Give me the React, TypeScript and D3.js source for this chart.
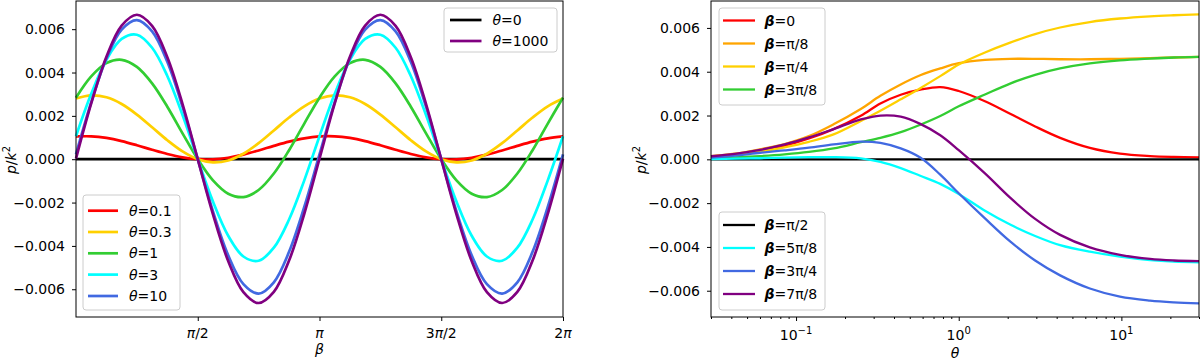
import React, { useRef, useEffect } from 'react';
import * as d3 from 'd3';

// ---- left panel: p/k^2 against beta, one curve per theta ----
const betaOverPi = [0, 0.0625, 0.125, 0.1875, 0.25, 0.3125, 0.375, 0.4375, 0.5, 0.5625, 0.625, 0.6875, 0.75, 0.8125, 0.875, 0.9375, 1,
    1.0625, 1.125, 1.1875, 1.25, 1.3125, 1.375, 1.4375, 1.5, 1.5625, 1.625, 1.6875, 1.75, 1.8125, 1.875, 1.9375, 2];

const pTheta0 = [0, 0, 0, 0, 0, 0, 0, 0, 0, 0, 0, 0, 0, 0, 0, 0, 0, 0, 0, 0, 0, 0, 0, 0, 0, 0, 0, 0, 0, 0, 0, 0, 0];
const pTheta01 = [0.00105, 0.001056, 0.000981, 0.000837, 0.000645, 0.000435, 0.000239, 0.000086, 0, -0.000006, 0.000069, 0.000213, 0.000405, 0.000615, 0.000811, 0.000964, 0.00105,
    0.001056, 0.000981, 0.000837, 0.000645, 0.000435, 0.000239, 0.000086, 0, -0.000006, 0.000069, 0.000213, 0.000405, 0.000615, 0.000811, 0.000964, 0.00105];
const pTheta03 = [0.0028, 0.002946, 0.002857, 0.002546, 0.00206, 0.001474, 0.000877, 0.00036, 0, -0.000146, -0.000057, 0.000254, 0.00074, 0.001326, 0.001923, 0.00244, 0.0028,
    0.002946, 0.002857, 0.002546, 0.00206, 0.001474, 0.000877, 0.00036, 0, -0.000146, -0.000057, 0.000254, 0.00074, 0.001326, 0.001923, 0.00244, 0.0028];
const pTheta1 = [0.00284, 0.003819, 0.004432, 0.004587, 0.00426, 0.003501, 0.002424, 0.001195, 0, -0.000979, -0.001592, -0.001747, -0.00142, -0.000661, 0.000416, 0.001645, 0.00284,
    0.003819, 0.004432, 0.004587, 0.00426, 0.003501, 0.002424, 0.001195, 0, -0.000979, -0.001592, -0.001747, -0.00142, -0.000661, 0.000416, 0.001645, 0.00284];
const pTheta3 = [0.00106, 0.003015, 0.004591, 0.005549, 0.005743, 0.005143, 0.003841, 0.002035, 0, -0.001955, -0.003531, -0.004489, -0.004683, -0.004083, -0.002781, -0.000975, 0.00106,
    0.003015, 0.004591, 0.005549, 0.005743, 0.005143, 0.003841, 0.002035, 0, -0.001955, -0.003531, -0.004489, -0.004683, -0.004083, -0.002781, -0.000975, 0.00106];
const pTheta10 = [0.00022, 0.002627, 0.00465, 0.005982, 0.00642, 0.005898, 0.004494, 0.002423, 0, -0.002407, -0.00443, -0.005762, -0.0062, -0.005678, -0.004274, -0.002203, 0.00022,
    0.002627, 0.00465, 0.005982, 0.00642, 0.005898, 0.004494, 0.002423, 0, -0.002407, -0.00443, -0.005762, -0.0062, -0.005678, -0.004274, -0.002203, 0.00022];
const pTheta1000 = [0.00003, 0.002574, 0.004728, 0.006165, 0.006665, 0.006153, 0.004706, 0.002546, 0, -0.002544, -0.004698, -0.006135, -0.006635, -0.006123, -0.004676, -0.002516, 0.00003,
    0.002574, 0.004728, 0.006165, 0.006665, 0.006153, 0.004706, 0.002546, 0, -0.002544, -0.004698, -0.006135, -0.006635, -0.006123, -0.004676, -0.002516, 0.00003];

const betaTickVals = [0.5, 1, 1.5, 2];
const betaTickLabels = ['π/2', 'π', '3π/2', '2π'];

// ---- right panel: p/k^2 against theta (log), one curve per beta ----
const thetaGrid = [0.03, 0.042, 0.06, 0.085, 0.12, 0.17, 0.25, 0.33, 0.44, 0.58, 0.77, 1.0, 1.45, 2.07, 2.95, 4.2, 6.4, 9.8, 15, 21, 30];

const pBeta0 = [0.00013, 0.00023, 0.0004, 0.00062, 0.00095, 0.00138, 0.00199, 0.00255, 0.00295, 0.00318, 0.0033, 0.00312, 0.00265, 0.00208, 0.0015, 0.00098, 0.00052, 0.00026, 0.00015, 0.00011, 0.00009];
const pBetaPi8 = [0.00015, 0.00026, 0.00046, 0.0007, 0.00106, 0.0016, 0.0023, 0.0029, 0.00342, 0.00384, 0.00415, 0.00439, 0.00454, 0.00459, 0.00459, 0.00457, 0.00457, 0.00459, 0.00462, 0.00465, 0.00468];
const pBetaPi4 = [0.00012, 0.00021, 0.00036, 0.00055, 0.0008, 0.00114, 0.00175, 0.00222, 0.00274, 0.00325, 0.0038, 0.00433, 0.00488, 0.00533, 0.00572, 0.00602, 0.00627, 0.00643, 0.00653, 0.00658, 0.00662];
const pBeta3Pi8 = [0.00005, 0.00009, 0.00015, 0.00023, 0.00034, 0.0005, 0.00078, 0.00098, 0.00124, 0.00158, 0.00198, 0.00242, 0.00296, 0.00346, 0.00386, 0.00415, 0.00438, 0.00452, 0.0046, 0.00465, 0.00468];
const pBetaPi2 = [0, 0, 0, 0, 0, 0, 0, 0, 0, 0, 0, 0, 0, 0, 0, 0, 0, 0, 0, 0, 0];
const pBeta5Pi8 = [0.00001, 0.00003, 0.00005, 0.00008, 0.0001, 0.0001, 0.00004, -0.00012, -0.0004, -0.00075, -0.00112, -0.00158, -0.00235, -0.00298, -0.0035, -0.00392, -0.00422, -0.00444, -0.0046, -0.00467, -0.0047];
const pBeta3Pi4 = [0.00008, 0.00017, 0.0003, 0.00041, 0.00053, 0.00068, 0.00081, 0.00075, 0.0005, 0.00008, -0.0007, -0.00155, -0.0027, -0.00375, -0.00462, -0.0053, -0.0059, -0.00627, -0.00645, -0.00653, -0.00658];
const pBeta7Pi8 = [0.00014, 0.00025, 0.00043, 0.00068, 0.001, 0.00138, 0.00182, 0.002, 0.00195, 0.00162, 0.0011, 0.00042, -0.00064, -0.00175, -0.00272, -0.00345, -0.00402, -0.00436, -0.00455, -0.00462, -0.00465];

const thetaMajor = [0.1, 1, 10];
const thetaMajorExp = ['−1', '0', '1'];
const thetaMinor = [0.03, 0.04, 0.05, 0.06, 0.07, 0.08, 0.09, 0.2, 0.3, 0.4, 0.5, 0.6, 0.7, 0.8, 0.9, 2, 3, 4, 5, 6, 7, 8, 9, 20, 30];

const yTicks = [-0.006, -0.004, -0.002, 0, 0.002, 0.004, 0.006];

const FONT = "'DejaVu Sans', sans-serif";
const FS = 14;

const App = () => {
    const svgRef = useRef<SVGSVGElement>(null);

    useEffect(() => {
        const svg = d3.select(svgRef.current);
        svg.selectAll('*').remove();

        const legend = (g, box, rows, sym, bold, lw) => {
            g.append('rect')
                .attr('x', box[0]).attr('y', box[1])
                .attr('width', box[2] - box[0]).attr('height', box[3] - box[1])
                .attr('rx', 3)
                .attr('fill', 'white').attr('fill-opacity', 0.8)
                .attr('stroke', '#cccccc').attr('stroke-width', 1);
            rows.forEach(r => {
                g.append('line')
                    .attr('x1', r.hx0).attr('x2', r.hx1)
                    .attr('y1', r.y).attr('y2', r.y)
                    .attr('stroke', r.color).attr('stroke-width', lw);
                const t = g.append('text')
                    .attr('x', r.tx).attr('y', r.y + 5)
                    .attr('font-family', FONT).attr('font-size', FS);
                t.append('tspan').attr('font-style', 'italic').attr('font-weight', bold ? 'bold' : 'normal').text(sym);
                t.append('tspan').text(r.label);
            });
        };

        const yLabel = (g, x, y) => {
            const t = g.append('text')
                .attr('transform', `translate(${x},${y}) rotate(-90)`)
                .attr('text-anchor', 'middle')
                .attr('font-family', FONT).attr('font-size', FS);
            t.append('tspan').attr('font-style', 'italic').text('p');
            t.append('tspan').text('/');
            t.append('tspan').attr('font-style', 'italic').text('k');
            t.append('tspan').attr('font-size', 10).attr('dy', -6).text('2');
        };

        // ---------- left panel ----------
        const L = { x0: 76, x1: 563, y0: 1, y1: 317 };
        const xL = d3.scaleLinear().domain([0, 2]).range([L.x0, L.x1]);
        const yL = d3.scaleLinear().domain([-0.00728, 0.0073]).range([L.y1, L.y0]);
        const gL = svg.append('g');

        const leftSeries = [
            { vals: pTheta0, color: 'black' },
            { vals: pTheta01, color: '#ff0000' },
            { vals: pTheta03, color: '#ffd000' },
            { vals: pTheta1, color: '#32cd32' },
            { vals: pTheta3, color: '#00ffff' },
            { vals: pTheta10, color: '#4169e1' },
            { vals: pTheta1000, color: '#800080' },
        ];
        const lineL = d3.line<number>()
            .x((d, i) => xL(betaOverPi[i]))
            .y(d => yL(d))
            .curve(d3.curveCatmullRom);
        gL.selectAll('path.curve')
            .data(leftSeries)
            .join('path')
            .attr('class', 'curve')
            .attr('d', d => lineL(d.vals))
            .attr('fill', 'none')
            .attr('stroke', d => d.color)
            .attr('stroke-width', 2.7);

        gL.append('g')
            .attr('transform', `translate(${L.x0},0)`)
            .call(d3.axisLeft(yL).tickValues(yTicks).tickFormat(d3.format('.3f')).tickSize(4).tickPadding(7))
            .call(g => g.select('.domain').remove())
            .attr('font-family', FONT).attr('font-size', FS);

        gL.append('g')
            .attr('transform', `translate(0,${L.y1})`)
            .call(d3.axisBottom(xL).tickValues(betaTickVals).tickFormat('').tickSize(4))
            .call(g => g.select('.domain').remove());
        betaTickVals.forEach((v, i) => {
            const parts = betaTickLabels[i].split('π');
            const t = gL.append('text')
                .attr('x', xL(v)).attr('y', 338)
                .attr('text-anchor', 'middle')
                .attr('font-family', FONT).attr('font-size', FS);
            t.append('tspan').text(parts[0]);
            t.append('tspan').attr('font-style', 'italic').text('π');
            t.append('tspan').text(parts[1]);
        });

        gL.append('rect')
            .attr('x', L.x0).attr('y', L.y0)
            .attr('width', L.x1 - L.x0).attr('height', L.y1 - L.y0)
            .attr('fill', 'none').attr('stroke', 'black').attr('stroke-width', 1);

        gL.append('text')
            .attr('x', (L.x0 + L.x1) / 2).attr('y', 354)
            .attr('text-anchor', 'middle')
            .attr('font-family', FONT).attr('font-size', FS).attr('font-style', 'italic')
            .text('β');
        yLabel(gL, 16, 160);

        legend(gL, [83, 195, 180, 310], [
            { label: '=0.1', color: '#ff0000', y: 210.7 },
            { label: '=0.3', color: '#ffd000', y: 232 },
            { label: '=1', color: '#32cd32', y: 253.3 },
            { label: '=3', color: '#00ffff', y: 274.6 },
            { label: '=10', color: '#4169e1', y: 296 },
        ].map(r => ({ ...r, hx0: 88, hx1: 118, tx: 129 })), 'θ', false, 2.7);
        legend(gL, [444, 8, 557, 52], [
            { label: '=0', color: 'black', y: 20 },
            { label: '=1000', color: '#800080', y: 41 },
        ].map(r => ({ ...r, hx0: 450, hx1: 481.5, tx: 492.5 })), 'θ', false, 2.7);

        // ---------- right panel ----------
        const R = { x0: 711, x1: 1199, y0: 1, y1: 317 };
        const xR = d3.scaleLog().domain([0.03, 30]).range([R.x0, R.x1]);
        const yR = d3.scaleLinear().domain([-0.0072, 0.00723]).range([R.y1, R.y0]);
        const gR = svg.append('g');

        const rightSeries = [
            { vals: pBeta0, color: '#ff0000', label: '=0' },
            { vals: pBetaPi8, color: '#ffa500', label: '=π/8' },
            { vals: pBetaPi4, color: '#ffd000', label: '=π/4' },
            { vals: pBeta3Pi8, color: '#32cd32', label: '=3π/8' },
            { vals: pBetaPi2, color: 'black', label: '=π/2' },
            { vals: pBeta5Pi8, color: '#00ffff', label: '=5π/8' },
            { vals: pBeta3Pi4, color: '#4169e1', label: '=3π/4' },
            { vals: pBeta7Pi8, color: '#800080', label: '=7π/8' },
        ];
        const lineR = d3.line<number>()
            .x((d, i) => xR(thetaGrid[i]))
            .y(d => yR(d))
            .curve(d3.curveCatmullRom.alpha(0.5));
        gR.selectAll('path.curve')
            .data(rightSeries)
            .join('path')
            .attr('class', 'curve')
            .attr('d', d => lineR(d.vals))
            .attr('fill', 'none')
            .attr('stroke', d => d.color)
            .attr('stroke-width', 2.3);

        gR.append('g')
            .attr('transform', `translate(${R.x0},0)`)
            .call(d3.axisLeft(yR).tickValues(yTicks).tickFormat(d3.format('.3f')).tickSize(4).tickPadding(7))
            .call(g => g.select('.domain').remove())
            .attr('font-family', FONT).attr('font-size', FS);

        gR.append('g')
            .attr('transform', `translate(0,${R.y1})`)
            .call(d3.axisBottom(xR).tickValues(thetaMajor).tickFormat('').tickSize(4))
            .call(g => g.select('.domain').remove());
        gR.append('g')
            .attr('transform', `translate(0,${R.y1})`)
            .call(d3.axisBottom(xR).tickValues(thetaMinor).tickFormat('').tickSize(2))
            .call(g => g.select('.domain').remove());
        thetaMajor.forEach((v, i) => {
            const t = gR.append('text')
                .attr('x', xR(v)).attr('y', 340)
                .attr('text-anchor', 'middle')
                .attr('font-family', FONT).attr('font-size', FS);
            t.append('tspan').text('10');
            t.append('tspan').attr('font-size', 10).attr('dy', -6).text(thetaMajorExp[i]);
        });

        gR.append('rect')
            .attr('x', R.x0).attr('y', R.y0)
            .attr('width', R.x1 - R.x0).attr('height', R.y1 - R.y0)
            .attr('fill', 'none').attr('stroke', 'black').attr('stroke-width', 1);

        gR.append('text')
            .attr('x', (R.x0 + R.x1) / 2).attr('y', 358)
            .attr('text-anchor', 'middle')
            .attr('font-family', FONT).attr('font-size', FS).attr('font-style', 'italic')
            .text('θ');
        yLabel(gR, 646, 160);

        const rowYTop = [20.5, 43.5, 66.5, 89.5];
        const rowYBot = [225, 248, 271, 294];
        legend(gR, [719, 8, 825, 105], rightSeries.slice(0, 4)
            .map((s, i) => ({ label: s.label, color: s.color, y: rowYTop[i], hx0: 723, hx1: 755, tx: 764.5 })), 'β', true, 2.3);
        legend(gR, [719, 212, 825, 310], rightSeries.slice(4)
            .map((s, i) => ({ label: s.label, color: s.color, y: rowYBot[i], hx0: 723, hx1: 755, tx: 764.5 })), 'β', true, 2.3);
    }, []);

    return (
        <svg ref={svgRef} width={1200} height={364}
            style={{ position: 'absolute', left: 0, top: 0, background: 'white' }} />
    );
};

export default App;
